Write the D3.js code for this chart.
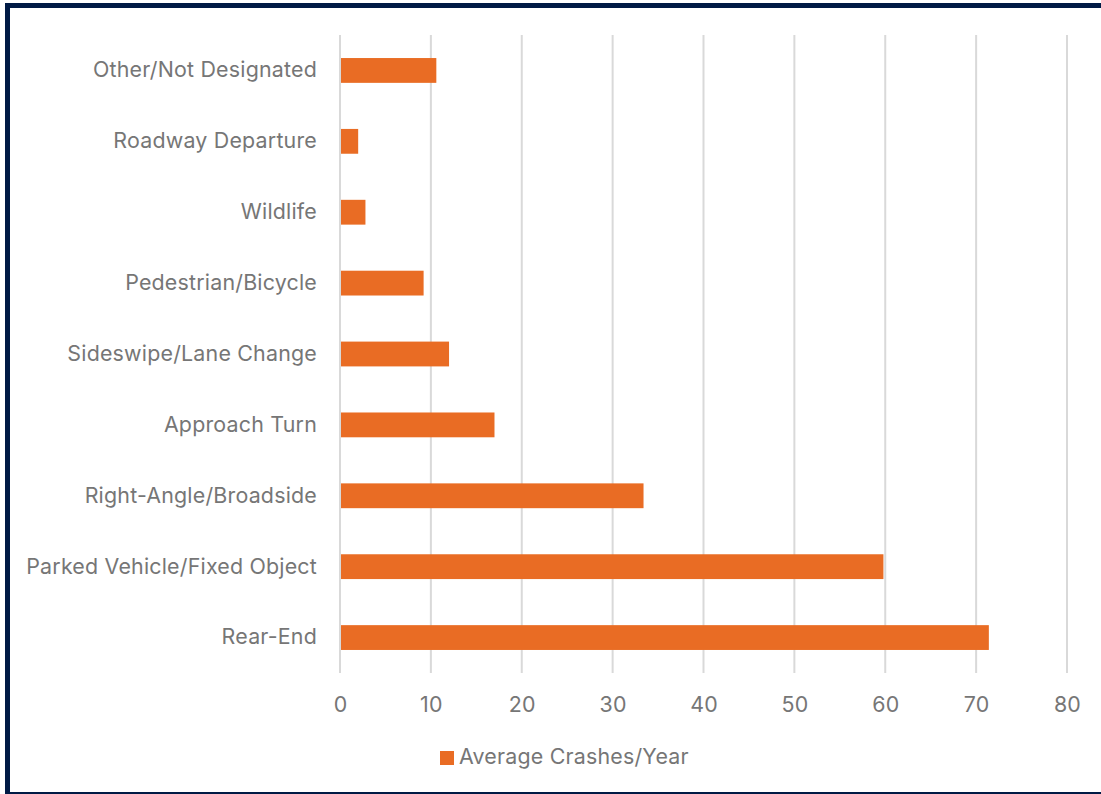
<!DOCTYPE html>
<html>
<head>
<meta charset="utf-8">
<script src="https://cdn.jsdelivr.net/npm/d3@7"></script>
<style>
  body { margin: 0; background: #fff; }
  svg { display: block; }
  text { font-family: Inter, sans-serif; fill: #767676; letter-spacing: 0.2px; }
</style>
</head>
<body>
<div id="chart"></div>
<script>
const categories = [
  "Other/Not Designated",
  "Roadway Departure",
  "Wildlife",
  "Pedestrian/Bicycle",
  "Sideswipe/Lane Change",
  "Approach Turn",
  "Right-Angle/Broadside",
  "Parked Vehicle/Fixed Object",
  "Rear-End",
];
const crashes = [10.6, 2.0, 2.8, 9.2, 12.0, 17.0, 33.4, 59.8, 71.4];
const xTicks = [0, 10, 20, 30, 40, 50, 60, 70, 80];
const seriesName = "Average Crashes/Year";

const width = 1101;
const height = 794;
const margin = { top: 35, right: 34, bottom: 121, left: 340 };
const orange = "#e96c24";
const navy = "#001a45";
const font = "Inter, sans-serif";
const fontSize = 21.4;

const svg = d3.select("#chart").append("svg")
  .attr("width", width)
  .attr("height", height);

// frame
svg.append("rect").attr("x", 5).attr("y", 3).attr("width", width).attr("height", 5).attr("fill", navy);
svg.append("rect").attr("x", 5).attr("y", 3).attr("width", 5).attr("height", height).attr("fill", navy);
svg.append("rect").attr("x", 5).attr("y", 792).attr("width", width).attr("height", 2).attr("fill", navy);

const x = d3.scaleLinear()
  .domain([0, 80])
  .range([margin.left, width - margin.right]);

const y = d3.scaleBand()
  .domain(categories)
  .range([margin.top, height - margin.bottom])
  .paddingInner(0.65)
  .paddingOuter(0.325);

// gridlines
svg.append("g")
  .selectAll("line")
  .data(xTicks)
  .join("line")
  .attr("x1", (d) => x(d))
  .attr("x2", (d) => x(d))
  .attr("y1", margin.top)
  .attr("y2", height - margin.bottom)
  .attr("stroke", "#d9d9d9")
  .attr("stroke-width", 2);

// bars
svg.append("g")
  .selectAll("rect")
  .data(categories)
  .join("rect")
  .attr("x", x(0) + 1)
  .attr("y", (d) => y(d))
  .attr("width", (d, i) => x(crashes[i]) - x(0) - 1)
  .attr("height", y.bandwidth())
  .attr("fill", orange);

// category labels
const yAxis = d3.axisLeft(y).tickSize(0).tickPadding(23);
svg.append("g")
  .attr("transform", `translate(${margin.left},0)`)
  .call(yAxis)
  .call((g) => g.select(".domain").remove())
  .call((g) => g.selectAll("text")
    .attr("font-size", fontSize)
    .attr("fill", "#767676")
    .style("font-family", font));

// value labels
const xAxis = d3.axisBottom(x).tickValues(xTicks).tickSize(0).tickPadding(24);
svg.append("g")
  .attr("transform", `translate(0,${height - margin.bottom})`)
  .call(xAxis)
  .call((g) => g.select(".domain").remove())
  .call((g) => g.selectAll("text")
    .attr("font-size", fontSize)
    .attr("fill", "#767676")
    .style("font-family", font));

// legend
const legend = svg.append("g").attr("transform", "translate(440,751)");
legend.append("rect").attr("width", 14).attr("height", 14).attr("fill", orange);
legend.append("text")
  .attr("x", 19)
  .attr("y", 13)
  .attr("font-size", fontSize)
  .text(seriesName);
</script>
</body>
</html>
